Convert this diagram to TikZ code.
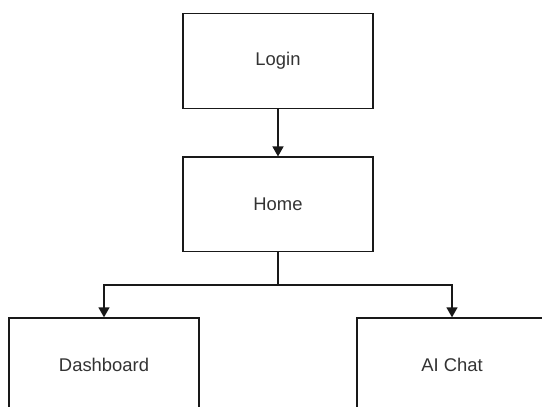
\documentclass[tikz,border=0pt]{standalone}
\usepackage{fontspec}
\setmainfont{Liberation Sans}
\usetikzlibrary{arrows.meta,positioning}

\begin{document}
\begin{tikzpicture}[-{Triangle[length=10pt,width=11pt]}, semithick, node distance=47.5pt]
\tikzstyle{every node}=[font=\fontsize{18.4}{22}\selectfont, text=black!80]
\tikzstyle{page}=[draw=black!90, line width=1.4pt, fill=white, minimum width=190pt, minimum height=94.5pt]
\useasboundingbox (0,0) rectangle (542pt,-407pt);
\node[page]  (login) at (278pt,-61pt)               {Login};
\node[page]  (home)  [below=of login]               {Home};
\node[page]  (dash)  [below=65pt of home, xshift=-174pt] {Dashboard};
\node[page]  (chat)  [below=65pt of home, xshift=174pt]  {AI Chat};
\draw[line width=1.4pt, draw=black!90] (login) -- (home);
\draw[line width=1.4pt, draw=black!90] (home.south) -- ++(0,-32.5pt) -| (dash.north);
\draw[line width=1.4pt, draw=black!90] (home.south) -- ++(0,-32.5pt) -| (chat.north);
\end{tikzpicture}
\end{document}
